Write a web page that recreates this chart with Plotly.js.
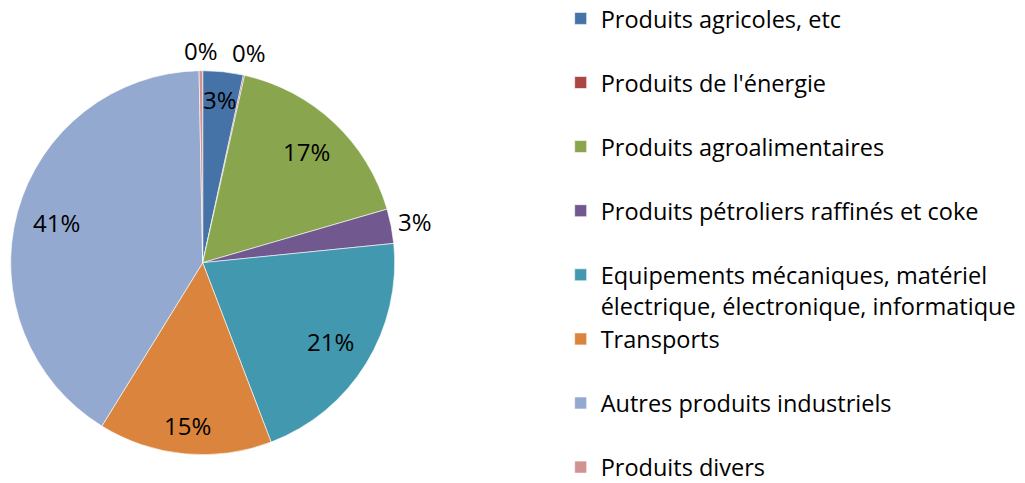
<!DOCTYPE html>
<html>
<head>
<meta charset="utf-8">
<script src="https://cdn.plot.ly/plotly-3.0.1.min.js"></script>
<style>
  html, body { margin: 0; padding: 0; background: #ffffff; }
  #chart { width: 1025px; height: 483px; }
</style>
</head>
<body>
<div id="chart"></div>
<script>
// ---- data ----
const categories = [
  "Produits agricoles, etc",
  "Produits de l'énergie",
  "Produits agroalimentaires",
  "Produits pétroliers raffinés et coke",
  "Equipements mécaniques, matériel<br>électrique, électronique, informatique",
  "Transports",
  "Autres produits industriels",
  "Produits divers"
];
const values = [3.4, 0.1, 17.0, 2.9, 20.8, 14.6, 40.9, 0.3];
const colors = ["#4572A7", "#AA4643", "#89A54E", "#71588F", "#4198AF", "#DB843D", "#93A9CF", "#D19392"];

// ---- layout config ----
const W = 1025, H = 483;
const FONT = "'Open Sans', Lato, sans-serif";
const pieCx = 202.7, pieCy = 262.7, pieR = 192;   // pixel geometry of the pie domain
const labelFs = 24, legendFs = 23.5;

// legend text: pad single-line entries (except the last) so every entry takes two lines
const legendLabels = categories.map((c, i) =>
  (c.indexOf("<br>") >= 0 || i === categories.length - 1) ? c : c + "<br>\u00a0");

const total = values.reduce((a, b) => a + b, 0);
const pctText = values.map(v => Math.round(v / total * 100) + "%");

// label placement like the spreadsheet "best fit": inside near the rim, outside for small slices
const annotations = [];
let cum = 0;
values.forEach((v, i) => {
  const mid = (cum + v / 2) / total * 2 * Math.PI;
  cum += v;
  const s = Math.sin(mid), c = Math.cos(mid);
  const txt = pctText[i];
  const hw = txt.length * 0.35 * labelFs;   // approx half text width
  const inside = v / total >= 0.03;
  const r = inside ? (pieR - 13) - (Math.abs(s) * hw + Math.abs(c) * 13.5)
                   : (pieR + 5) + (Math.abs(s) * hw + Math.abs(c) * 15);
  const px = pieCx + r * s, py = pieCy - r * c;
  annotations.push({
    xref: "paper", yref: "paper", x: px / W, y: 1 - py / H,
    xanchor: "center", yanchor: "middle", showarrow: false,
    text: txt, font: { family: FONT, size: labelFs, color: "#000000" }
  });
});

const trace = {
  type: "pie",
  labels: legendLabels,
  values: values,
  sort: false,
  direction: "clockwise",
  rotation: 0,
  textinfo: "none",
  hoverinfo: "label+percent",
  marker: { colors: colors, line: { color: "#ffffff", width: 0.6 } },
  domain: {
    x: [(pieCx - pieR) / W, (pieCx + pieR) / W],
    y: [1 - (pieCy + pieR) / H, 1 - (pieCy - pieR) / H]
  }
};

const layout = {
  width: W, height: H,
  margin: { l: 0, r: 0, t: 0, b: 0, autoexpand: false },
  paper_bgcolor: "#ffffff",
  plot_bgcolor: "#ffffff",
  font: { family: FONT, color: "#000000" },
  showlegend: true,
  legend: {
    x: 0.547, y: 1.007, xanchor: "left", yanchor: "top",
    font: { family: FONT, size: legendFs, color: "#000000" },
    bgcolor: "rgba(0,0,0,0)",
    valign: "top",
    traceorder: "normal",
    maxheight: 700
  },
  annotations: annotations
};

Plotly.newPlot("chart", [trace], layout, { displayModeBar: false, staticPlot: true });
</script>
</body>
</html>
